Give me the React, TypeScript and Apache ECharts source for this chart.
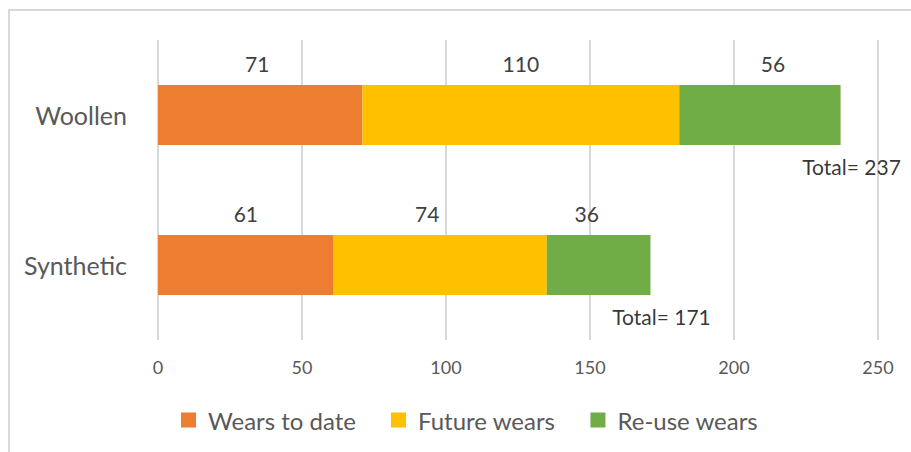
import React, { useEffect, useRef } from "react";
import * as echarts from "echarts";

const categories = ["Synthetic", "Woollen"];
const seriesNames = ["Wears to date", "Future wears", "Re-use wears"];
const wearsToDate = [61, 71];
const futureWears = [74, 110];
const reuseWears = [36, 56];
const xTicks = [0, 50, 100, 150, 200, 250];

const colors = ["#ED7D31", "#FFC000", "#70AD47"];
// manual label nudges (px) per series, per category (Synthetic, Woollen)
const labelNudges = [
  [0, -3],
  [-13, 0],
  [-12, 13],
];

const FONT = "Lato, 'Open Sans', sans-serif";

export default function App() {
  const ref = useRef<HTMLDivElement>(null);
  useEffect(() => {
    if (!ref.current) return;
    const chart = echarts.init(ref.current, undefined, { renderer: "svg" });
    const values = [wearsToDate, futureWears, reuseWears];
    const totals = categories.map((_, i) => values.reduce((s, arr) => s + arr[i], 0));
    const barSeries = values.map((arr, si) => ({
      name: seriesNames[si],
      type: "bar",
      stack: "total",
      barWidth: "40%",
      itemStyle: { color: colors[si] },
      data: arr.map((v, ci) => ({
        value: v,
        label: { offset: [labelNudges[si][ci], 0] },
      })),
      label: {
        show: true,
        position: "top",
        distance: 11,
        color: "#404040",
        fontSize: 21,
        fontFamily: FONT,
      },
    }));
    chart.setOption({
      animation: false,
      backgroundColor: "#ffffff",
      textStyle: { fontFamily: FONT },
      grid: { left: 158, right: 33, top: 40, bottom: 112, containLabel: false },
      graphic: [
        {
          type: "rect",
          shape: { x: 9, y: 10, width: 1200, height: 1200 },
          style: { fill: "none", stroke: "#d9d9d9", lineWidth: 2 },
          silent: true,
        },
      ],
      legend: {
        bottom: 15,
        left: 176,
        itemWidth: 15,
        itemHeight: 15,
        itemGap: 35,
        icon: "rect",
        textStyle: { color: "#595959", fontSize: 24, fontFamily: FONT, padding: [0, 0, 0, 7] },
        data: seriesNames,
      },
      xAxis: {
        type: "value",
        min: xTicks[0],
        max: xTicks[xTicks.length - 1],
        interval: 50,
        axisLine: { show: false },
        axisTick: { show: false },
        axisLabel: { color: "#595959", fontSize: 18, margin: 18, fontFamily: FONT },
        splitLine: { show: true, lineStyle: { color: "#d9d9d9", width: 2 } },
      },
      yAxis: {
        type: "category",
        data: categories,
        axisLine: { show: false },
        axisTick: { show: false },
        axisLabel: { color: "#595959", fontSize: 25, margin: 31, fontFamily: FONT },
      },
      series: [
        ...barSeries,
        {
          type: "scatter",
          symbolSize: 0,
          silent: true,
          data: totals.map((t, i) => [t, categories[i]]),
          label: {
            show: true,
            position: "inside",
            offset: [11, 51],
            color: "#000000",
            fontSize: 21,
            fontFamily: FONT,
            formatter: (p: any) => "Total= " + p.value[0],
          },
        },
      ],
    });
    return () => chart.dispose();
  }, []);
  return (
    <div
      ref={ref}
      style={{ position: "fixed", left: 0, top: 0, width: 911, height: 452 }}
    />
  );
}
